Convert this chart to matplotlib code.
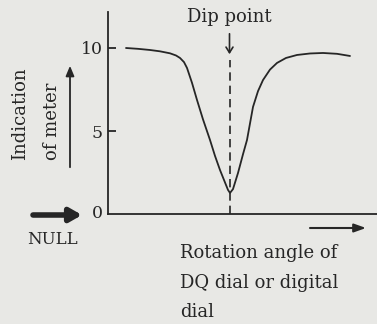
import matplotlib
matplotlib.use("Agg")
import matplotlib.pyplot as plt

# Data (x: arbitrary rotation units, y: meter indication)
angle = [1.8, 3.0, 4.2, 5.2, 6.2, 6.8, 7.2, 7.6, 7.9, 8.4, 8.9, 9.5, 10.2, 10.7,
         11.2, 11.7, 12.0, 12.2, 12.5, 13.0, 13.5, 13.9, 14.5, 15.0, 15.5, 16.2,
         16.9, 17.8, 18.9, 20.2, 21.5, 22.9, 24.2]
indication = [10.0, 9.95, 9.88, 9.8, 9.68, 9.55, 9.4, 9.15, 8.8, 7.9, 6.87, 5.7,
              4.46, 3.5, 2.65, 1.9, 1.45, 1.27, 1.5, 2.47, 3.6, 4.46, 6.45, 7.4,
              8.07, 8.7, 9.1, 9.4, 9.58, 9.67, 9.7, 9.65, 9.52]
dip_x = 12.2
yticks = [5, 10]
ytick_labels = ["5", "10"]

W, H = 377, 324
BG = "#e8e8e5"
INK = "#262626"
FONT = "DejaVu Serif"
FS = 13

fig = plt.figure(figsize=(W / 100, H / 100), dpi=100, facecolor=BG)

def fx(x):
    return x / W

def fy(y):
    return 1 - y / H

ax_left, ax_bottom, ax_top, ax_right = 108, 214, 12, 377
ax = fig.add_axes([fx(ax_left), fy(ax_bottom), (ax_right - ax_left) / W, (ax_bottom - ax_top) / H])
ax.set_facecolor(BG)
ax.set_xlim(0, (ax_right - ax_left) / 10)
ax.set_ylim(0, (ax_bottom - ax_top) / 16.6)

for s in ["top", "right"]:
    ax.spines[s].set_visible(False)
for s in ["left", "bottom"]:
    ax.spines[s].set_linewidth(1.3)
    ax.spines[s].set_color(INK)

ax.plot(angle, indication, color=INK, lw=1.3, solid_capstyle="round")
ax.plot([dip_x, dip_x], [0, 9.3], color=INK, lw=1.2, ls=(0, (5, 3)))

ax.set_xticks([])
ax.set_yticks(yticks)
ax.set_yticklabels(ytick_labels, fontfamily=FONT, fontsize=FS - 0.5, color=INK)
ax.tick_params(axis="y", direction="in", length=6, width=1.3, color=INK, pad=4)

# zero label
fig.text(fx(97), fy(214), "0", fontfamily=FONT, fontsize=FS - 0.5, color=INK, ha="center", va="center")

# Dip point text and arrow
fig.text(fx(229.5), fy(17), "Dip point", fontfamily=FONT, fontsize=FS, color=INK, ha="center", va="center")
fig.add_artist(matplotlib.patches.FancyArrowPatch((fx(229.5), fy(31)), (fx(229.5), fy(57)),
               transform=fig.transFigure, arrowstyle="->,head_length=4,head_width=2.5",
               color=INK, lw=1.2))

# y label
fig.text(fx(20), fy(114), "Indication", fontfamily=FONT, fontsize=FS, color=INK,
         rotation=90, ha="center", va="center")
fig.text(fx(52), fy(121.5), "of meter", fontfamily=FONT, fontsize=FS, color=INK,
         rotation=90, ha="center", va="center")
fig.add_artist(matplotlib.patches.FancyArrowPatch((fx(70), fy(170)), (fx(70), fy(63)),
               transform=fig.transFigure, arrowstyle="-|>,head_length=6,head_width=2.5",
               color=INK, lw=1.3))

# NULL arrow
fig.add_artist(matplotlib.patches.FancyArrowPatch((fx(33), fy(215)), (fx(82), fy(215)),
               transform=fig.transFigure, arrowstyle="-|>,head_length=7,head_width=4",
               color=INK, lw=4, shrinkA=0, shrinkB=0))
fig.text(fx(52), fy(239), "NULL", fontfamily=FONT, fontsize=12, color=INK, ha="center", va="center")

# x label
fig.add_artist(matplotlib.patches.FancyArrowPatch((fx(310), fy(228)), (fx(366), fy(228)),
               transform=fig.transFigure, arrowstyle="-|>,head_length=7,head_width=2.5",
               color=INK, lw=1.5, shrinkA=0, shrinkB=0))
for i, line in enumerate(["Rotation angle of", "DQ dial or digital", "dial"]):
    fig.text(fx(180), fy(253 + 29.5 * i), line, fontfamily=FONT, fontsize=FS, color=INK,
             ha="left", va="center")

fig.savefig("out.png", dpi=100, facecolor=BG)
